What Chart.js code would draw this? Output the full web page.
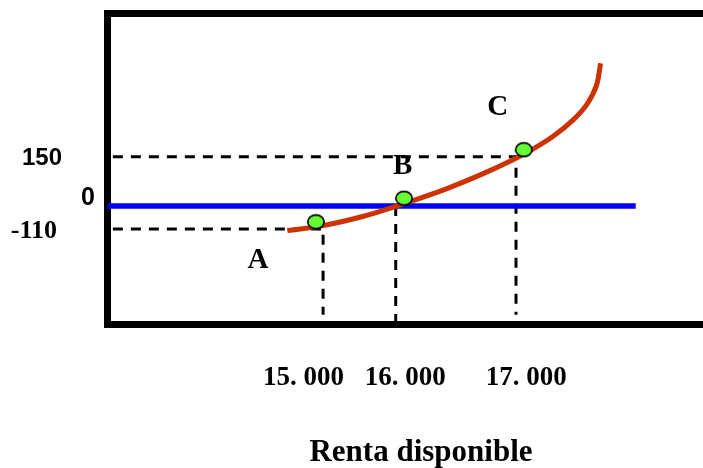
<!DOCTYPE html>
<html><head><meta charset="utf-8">
<script src="https://cdn.jsdelivr.net/npm/chart.js@4.4.0/dist/chart.umd.min.js"></script>
<style>html,body{margin:0;padding:0;background:#fff}#c{display:block}</style>
</head><body>
<canvas id="c" width="703" height="468"></canvas>
<script>
// Schematic sketch: both axes are in sketch units (0–10).
const curveX = [3.02, 3.62, 4.30, 4.84, 5.14, 5.70, 6.26, 6.81, 7.15, 7.49, 7.82, 8.05, 8.21, 8.28];
const curveY = [3.02, 3.18, 3.48, 3.80, 3.99, 4.37, 4.81, 5.30, 5.65, 6.06, 6.58, 7.08, 7.68, 8.40];
const pointNames = ['A', 'B', 'C'];
const pointX = [3.50, 4.98, 6.99];
const pointY = [3.30, 4.06, 5.62];
const guideX = [3.62, 4.84, 6.86];          // income levels marked by dashed verticals
const guideEnd = [0.31, 0.0, 0.31];         // where the dashed verticals stop
const xTickLabels = ['15. 000', '16. 000', '17. 000'];
const xTickPos = [3.29, 5.00, 7.03];
const yTickLabels = ['-110', '0', '150'];
const yTickPos = [3.07, 3.81, 5.39];
const zeroLineEnd = 8.87;
const xTitle = 'Renta disponible';

// green elliptical marker
const mk = document.createElement('canvas');
mk.width = 20; mk.height = 17;
(function () {
  const c = mk.getContext('2d');
  c.beginPath();
  c.ellipse(10, 8.5, 8.2, 6.8, 0, 0, Math.PI * 2);
  c.fillStyle = '#66FF33';
  c.fill();
  c.lineWidth = 1.7;
  c.strokeStyle = '#000';
  c.stroke();
})();

const datasets = [];
// dashed guides
guideX.forEach((gx, i) => {
  const pts = [];
  if (i !== 1) pts.push({x: 0.09, y: yTickPos[i]});
  pts.push({x: gx, y: yTickPos[i]});
  pts.push({x: gx, y: guideEnd[i]});
  datasets.push({
    data: pts, showLine: true, borderColor: '#000', borderWidth: 3,
    borderDash: [10, 8], pointRadius: 0, order: 4, clip: false, tension: 0
  });
});
// zero line
datasets.push({
  data: [{x: 0, y: yTickPos[1]}, {x: zeroLineEnd, y: yTickPos[1]}],
  showLine: true, borderColor: '#0000FF', borderWidth: 5.5, pointRadius: 0, order: 3, clip: false
});
// curve
datasets.push({
  data: curveX.map((x, i) => ({x, y: curveY[i]})),
  showLine: true, borderColor: '#CC3300', borderWidth: 5, pointRadius: 0,
  tension: 0.4, order: 2, clip: false
});
// points
datasets.push({
  data: pointX.map((x, i) => ({x, y: pointY[i]})),
  showLine: false, pointStyle: mk, pointRadius: 9, order: 1, clip: false
});

const letterOffsets = [[-58, 36], [-1.5, -34.5], [-26, -45]];
const yLabelStyle = [
  {font: 'bold 26px "Liberation Serif", "Times New Roman", serif', right: 57, dy: 2},
  {font: 'bold 25px "Liberation Sans", Arial, sans-serif', right: 95, dy: -7.4},
  {font: 'bold 24px "Liberation Sans", Arial, sans-serif', right: 62, dy: 2}
];

const decor = {
  id: 'decor',
  beforeDatasetsDraw(chart) {
    const {ctx, chartArea: a} = chart;
    ctx.save();
    ctx.lineWidth = 7;
    ctx.strokeStyle = '#000';
    ctx.strokeRect(a.left, a.top, a.right - a.left + 30, a.bottom - a.top);
    ctx.restore();
  },
  afterDraw(chart) {
    const {ctx} = chart;
    const xs = chart.scales.x, ys = chart.scales.y;
    ctx.save();
    ctx.fillStyle = '#000';
    // y labels
    ctx.textBaseline = 'middle';
    ctx.textAlign = 'right';
    yTickLabels.forEach((t, i) => {
      const s = yLabelStyle[i];
      ctx.font = s.font;
      ctx.fillText(t, s.right, ys.getPixelForValue(yTickPos[i]) + s.dy);
    });
    // x labels
    ctx.textAlign = 'center';
    ctx.textBaseline = 'alphabetic';
    ctx.font = 'bold 27px "Liberation Serif", "Times New Roman", serif';
    xTickLabels.forEach((t, i) => {
      ctx.fillText(t, xs.getPixelForValue(xTickPos[i]), 385);
    });
    // point letters
    ctx.font = 'bold 29px "Liberation Serif", "Times New Roman", serif';
    pointNames.forEach((n, i) => {
      const px = xs.getPixelForValue(pointX[i]) + letterOffsets[i][0];
      const py = ys.getPixelForValue(pointY[i]) + letterOffsets[i][1];
      ctx.fillText(n, px, py + 10);
    });
    // axis title
    ctx.font = 'bold 31px "Liberation Serif", "Times New Roman", serif';
    ctx.fillText(xTitle, 421, 461);
    ctx.restore();
  }
};

new Chart(document.getElementById('c'), {
  type: 'scatter',
  data: {datasets},
  options: {
    responsive: false,
    animation: false,
    devicePixelRatio: 1,
    layout: {autoPadding: false, padding: {left: 107.5, top: 13.5, right: 0, bottom: 143.5}},
    plugins: {legend: {display: false}, tooltip: {enabled: false}},
    scales: {
      x: {type: 'linear', min: 0, max: 10, display: false},
      y: {type: 'linear', min: 0, max: 10, display: false}
    }
  },
  plugins: [decor]
});
</script>
</body></html>
